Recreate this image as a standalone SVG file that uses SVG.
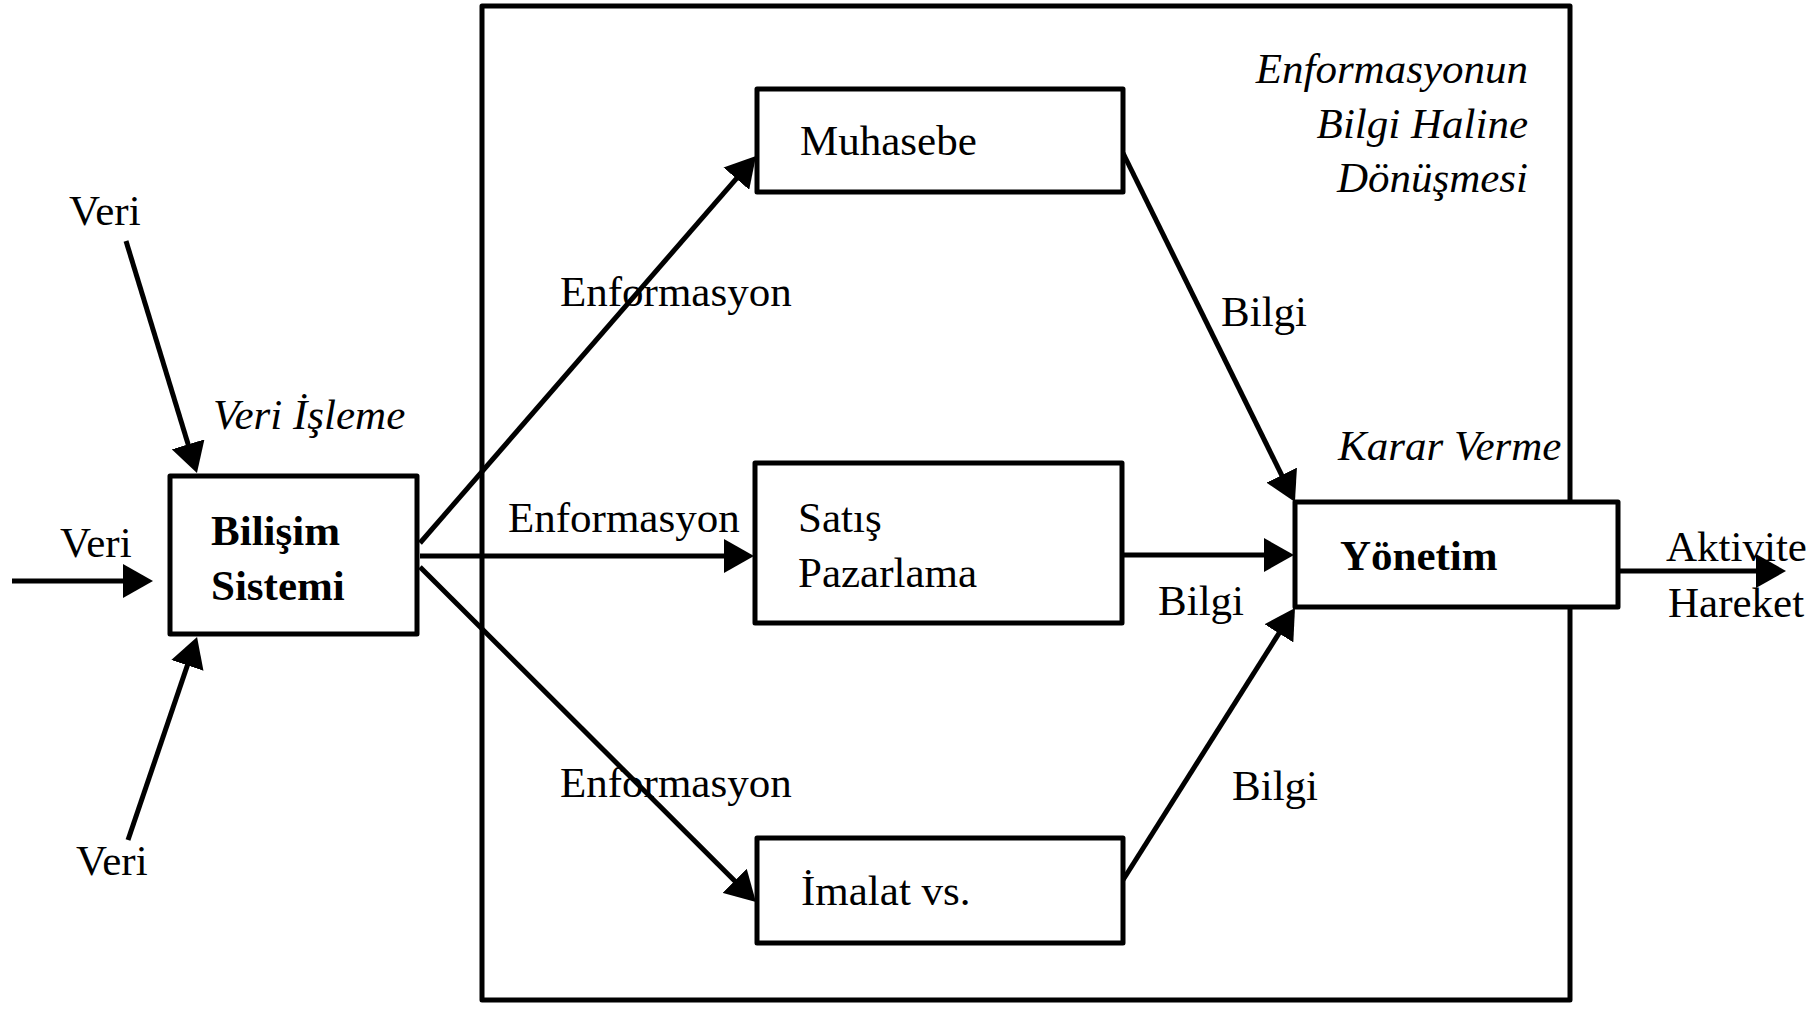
<svg xmlns="http://www.w3.org/2000/svg" width="1806" height="1009" viewBox="0 0 1806 1009">
<style>
  text { font-family: "Liberation Serif", "Times New Roman", serif; font-size: 43px; fill: #000; }
  .b { font-weight: bold; }
  .i { font-style: italic; }
  .box { fill: #fff; stroke: #000; stroke-width: 5; stroke-linejoin: round; }
  .frame { fill: none; stroke: #000; stroke-width: 5; stroke-linejoin: round; }
  .c { fill: none; stroke: #000; stroke-width: 5; marker-end: url(#ah); }
</style>
<defs>
  <marker id="ah" viewBox="0 0 30 34" refX="10" refY="17" markerWidth="30" markerHeight="34" markerUnits="userSpaceOnUse" orient="auto">
    <path d="M0,0 L30,17 L0,34 Z" fill="#000"/>
  </marker>
</defs>
<rect id="frame" class="frame" x="482" y="6" width="1088" height="994"/>
<g id="connectors">
  <line class="c" x1="126" y1="241" x2="191.1" y2="453.9"/>
  <line class="c" x1="12" y1="581" x2="133" y2="581"/>
  <line class="c" x1="128" y1="840" x2="190.6" y2="655.9"/>
  <line class="c" x1="420" y1="543" x2="742.9" y2="171.1"/>
  <line class="c" x1="420" y1="556" x2="734" y2="556"/>
  <line class="c" x1="420" y1="567" x2="741.8" y2="887.9"/>
  <line class="c" x1="1123" y1="153" x2="1286.1" y2="484.1"/>
  <line class="c" x1="1122" y1="555" x2="1274" y2="555"/>
  <line class="c" x1="1123" y1="880" x2="1284.3" y2="624.9"/>
  <line class="c" x1="1618" y1="571" x2="1766" y2="571"/>
</g>
<g id="labels">
  <text x="69" y="225">Veri</text>
  <text x="60" y="557">Veri</text>
  <text x="76" y="875">Veri</text>
  <text class="i" x="213" y="429">Veri İşleme</text>
  <text x="560" y="306">Enformasyon</text>
  <text x="508" y="532">Enformasyon</text>
  <text x="560" y="797">Enformasyon</text>
  <text x="1221" y="326">Bilgi</text>
  <text x="1158" y="615">Bilgi</text>
  <text x="1232" y="800">Bilgi</text>
  <text class="i" x="1338" y="460">Karar Verme</text>
  <text x="1666" y="561">Aktivite</text>
  <text x="1668" y="617">Hareket</text>
  <g class="i" text-anchor="end">
    <text x="1528" y="83">Enformasyonun</text>
    <text x="1528" y="138">Bilgi Haline</text>
    <text x="1528" y="192">Dönüşmesi</text>
  </g>
</g>
<g id="bilisim">
  <rect class="box" x="170" y="476" width="247" height="158"/>
  <text class="b" x="211" y="545">Bilişim</text>
  <text class="b" x="211" y="600">Sistemi</text>
</g>
<g id="muhasebe">
  <rect class="box" x="757" y="89" width="366" height="103"/>
  <text x="800" y="155">Muhasebe</text>
</g>
<g id="satis">
  <rect class="box" x="755" y="463" width="367" height="160"/>
  <text x="798" y="532">Satış</text>
  <text x="798" y="587">Pazarlama</text>
</g>
<g id="imalat">
  <rect class="box" x="757" y="838" width="366" height="105"/>
  <text x="801" y="905">İmalat vs.</text>
</g>
<g id="yonetim">
  <rect class="box" x="1295" y="502" width="323" height="105"/>
  <text class="b" x="1340" y="570">Yönetim</text>
</g>
</svg>
